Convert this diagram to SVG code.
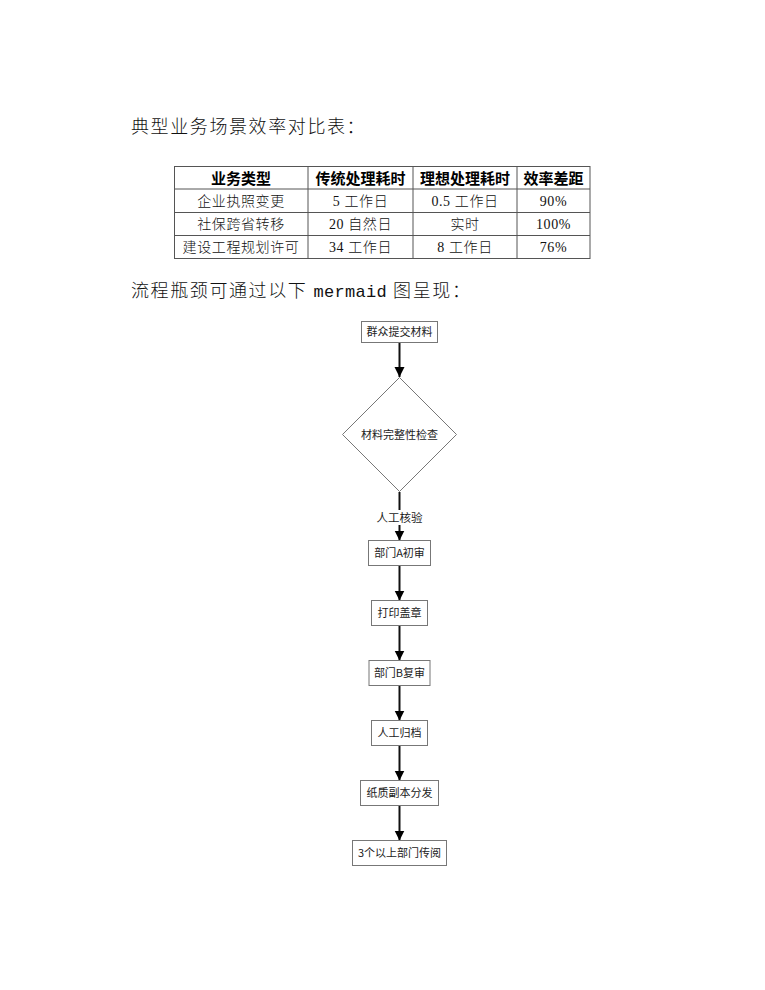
<svg xmlns="http://www.w3.org/2000/svg" width="765" height="990" viewBox="0 0 765 990">
<style>
.para{font-family:"Liberation Serif","Noto Sans CJK SC",serif;font-size:18px;fill:#111;font-weight:300;letter-spacing:1.6px}
.mono{font-family:"Liberation Mono","Noto Sans CJK SC",monospace;letter-spacing:0.3px;font-size:17px}
.th{font-family:"Noto Sans CJK SC",sans-serif;font-size:15px;font-weight:700;fill:#000;text-anchor:middle}
.td{font-family:"Liberation Serif","Noto Sans CJK SC",serif;font-size:14px;font-weight:300;fill:#111;text-anchor:middle;letter-spacing:0.6px}
.grid{stroke:#555;stroke-width:1;fill:none}
.node rect,.node polygon{fill:#fff;stroke:#777;stroke-width:1}
.node text{font-family:"Noto Sans CJK SC",sans-serif;font-size:11px;fill:#222;text-anchor:middle}
.edge{stroke:#111;stroke-width:2;fill:none}
.elabel{font-family:"Noto Sans CJK SC",sans-serif;font-size:11.5px;fill:#222;text-anchor:middle}
</style>
<defs>
<marker id="arr" viewBox="0 0 10 10" refX="10" refY="5" markerWidth="5" markerHeight="5.5" orient="auto" markerUnits="strokeWidth">
<path d="M0,0 L10,5 L0,10 z" fill="#000"/>
</marker>
</defs>
<rect width="765" height="990" fill="#fff"/>
<text class="para" x="131" y="133">典型业务场景效率对比表：</text>
<g id="table">
<rect class="grid" x="174.5" y="166.5" width="415.5" height="92"/>
<path class="grid" d="M174.5 189H590M174.5 212.5H590M174.5 235.5H590M308 166.5V258.5M413 166.5V258.5M517 166.5V258.5"/>
<text class="th" x="241" y="183.5">业务类型</text>
<text class="th" x="360.5" y="183.5">传统处理耗时</text>
<text class="th" x="465" y="183.5">理想处理耗时</text>
<text class="th" x="553.5" y="183.5">效率差距</text>
<text class="td" x="241" y="206">企业执照变更</text>
<text class="td" x="360.5" y="206">5 工作日</text>
<text class="td" x="465" y="206">0.5 工作日</text>
<text class="td" x="553.5" y="206">90%</text>
<text class="td" x="241" y="229">社保跨省转移</text>
<text class="td" x="360.5" y="229">20 自然日</text>
<text class="td" x="465" y="229">实时</text>
<text class="td" x="553.5" y="229">100%</text>
<text class="td" x="241" y="252">建设工程规划许可</text>
<text class="td" x="360.5" y="252">34 工作日</text>
<text class="td" x="465" y="252">8 工作日</text>
<text class="td" x="553.5" y="252">76%</text>
</g>
<text class="para" x="131" y="297">流程瓶颈可通过以下 <tspan class="mono">mermaid</tspan> 图呈现：</text>
<g id="connectors">
<line class="edge" x1="399.5" y1="342.5" x2="399.5" y2="377" marker-end="url(#arr)"/>
<line class="edge" x1="399.5" y1="492" x2="399.5" y2="540.5" marker-end="url(#arr)"/>
<rect x="375" y="510" width="49" height="15" fill="#fff"/>
<text class="elabel" x="399.5" y="522">人工核验</text>
<line class="edge" x1="399.5" y1="566" x2="399.5" y2="600.5" marker-end="url(#arr)"/>
<line class="edge" x1="399.5" y1="626" x2="399.5" y2="660.5" marker-end="url(#arr)"/>
<line class="edge" x1="399.5" y1="686" x2="399.5" y2="720.5" marker-end="url(#arr)"/>
<line class="edge" x1="399.5" y1="746" x2="399.5" y2="780.5" marker-end="url(#arr)"/>
<line class="edge" x1="399.5" y1="806" x2="399.5" y2="840.5" marker-end="url(#arr)"/>
</g>
<g id="n1" class="node"><rect x="361.5" y="321.5" width="76" height="21"/><text x="399.5" y="336">群众提交材料</text></g>
<g id="n2" class="node"><polygon points="399.5,377.5 456.5,434.5 399.5,491.5 342.5,434.5"/><text x="399.5" y="438.5">材料完整性检查</text></g>
<g id="n3" class="node"><rect x="368.5" y="540.5" width="62" height="25"/><text x="399.5" y="557">部门A初审</text></g>
<g id="n4" class="node"><rect x="371.5" y="600.5" width="56" height="25"/><text x="399.5" y="617">打印盖章</text></g>
<g id="n5" class="node"><rect x="369" y="660.5" width="61" height="25"/><text x="399.5" y="677">部门B复审</text></g>
<g id="n6" class="node"><rect x="371.5" y="720.5" width="56" height="25"/><text x="399.5" y="737">人工归档</text></g>
<g id="n7" class="node"><rect x="360.5" y="780.5" width="78" height="25"/><text x="399.5" y="797">纸质副本分发</text></g>
<g id="n8" class="node"><rect x="352.5" y="840.5" width="94" height="25"/><text x="399.5" y="857">3个以上部门传阅</text></g>
</svg>
